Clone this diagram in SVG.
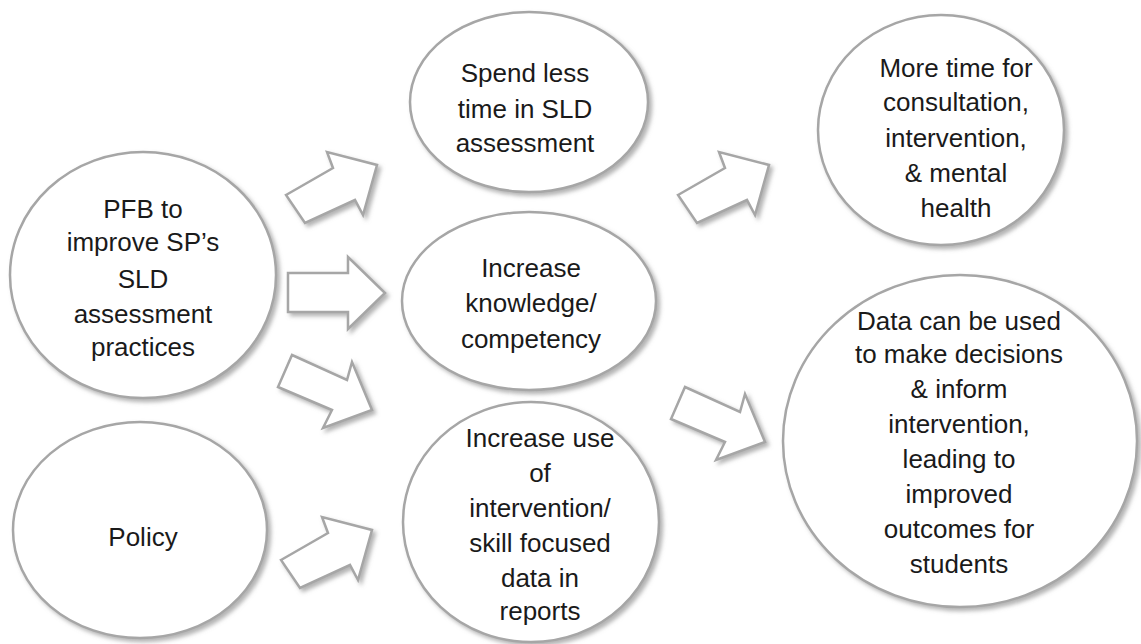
<svg xmlns="http://www.w3.org/2000/svg" width="1141" height="644" viewBox="0 0 1141 644">
<defs>
<filter id="sh" x="-10%" y="-10%" width="130%" height="130%">
<feDropShadow dx="3" dy="3" stdDeviation="2" flood-color="#808080" flood-opacity="0.6"/>
</filter>
<polygon id="arrUp" points="0,0 47,-27 41,-43 91,-30 77,20 69,5 19,28"/>
<polygon id="arrDown" points="0,0 55,25 60,7 80,55 31,73 40,55 -14,32"/>
</defs>
<style>
.node ellipse{fill:#fff;stroke:#a6a6a6;stroke-width:2.5;filter:url(#sh)}
.node text{font-family:"Liberation Sans",Arial,sans-serif;font-size:26px;fill:#1a1a1a;text-anchor:middle}
.arrow{fill:#fff;stroke:#a6a6a6;stroke-width:2.5;stroke-linejoin:miter;filter:url(#sh)}
</style>
<rect width="1141" height="644" fill="#fff"/>
<g id="connectors">
<use href="#arrUp" class="arrow" x="286" y="195"/>
<polygon class="arrow" points="288,273 348,273 348,257 385,293 348,329 348,312 288,312"/>
<use href="#arrDown" class="arrow" x="292" y="355"/>
<use href="#arrUp" class="arrow" x="281" y="560"/>
<use href="#arrUp" class="arrow" x="678" y="195"/>
<use href="#arrDown" class="arrow" x="685" y="387"/>
</g>
<g id="pfb" class="node">
<ellipse cx="143" cy="275" rx="133" ry="123"/>
<text x="143" y="218">PFB to</text>
<text x="143" y="251">improve SP’s</text>
<text x="143" y="288">SLD</text>
<text x="143" y="323">assessment</text>
<text x="143" y="356">practices</text>
</g>
<g id="policy" class="node">
<ellipse cx="140" cy="530" rx="127" ry="108"/>
<text x="143" y="546">Policy</text>
</g>
<g id="spend" class="node">
<ellipse cx="529" cy="102" rx="119" ry="90"/>
<text x="525" y="82">Spend less</text>
<text x="525" y="118">time in SLD</text>
<text x="525" y="152">assessment</text>
</g>
<g id="knowledge" class="node">
<ellipse cx="529" cy="301" rx="127" ry="89"/>
<text x="531" y="277">Increase</text>
<text x="531" y="312">knowledge/</text>
<text x="531" y="348">competency</text>
</g>
<g id="usedata" class="node">
<ellipse cx="531" cy="522" rx="128" ry="120"/>
<text x="540" y="447">Increase use</text>
<text x="540" y="482">of</text>
<text x="540" y="517">intervention/</text>
<text x="540" y="552">skill focused</text>
<text x="540" y="587">data in</text>
<text x="540" y="620">reports</text>
</g>
<g id="moretime" class="node">
<ellipse cx="941" cy="130" rx="123" ry="115"/>
<text x="956" y="77">More time for</text>
<text x="956" y="111">consultation,</text>
<text x="956" y="147">intervention,</text>
<text x="956" y="182">&amp; mental</text>
<text x="956" y="217">health</text>
</g>
<g id="datause" class="node">
<ellipse cx="960" cy="441" rx="177" ry="166"/>
<text x="959" y="330">Data can be used</text>
<text x="959" y="363">to make decisions</text>
<text x="959" y="398">&amp; inform</text>
<text x="959" y="433">intervention,</text>
<text x="959" y="468">leading to</text>
<text x="959" y="503">improved</text>
<text x="959" y="538">outcomes for</text>
<text x="959" y="573">students</text>
</g>
</svg>
